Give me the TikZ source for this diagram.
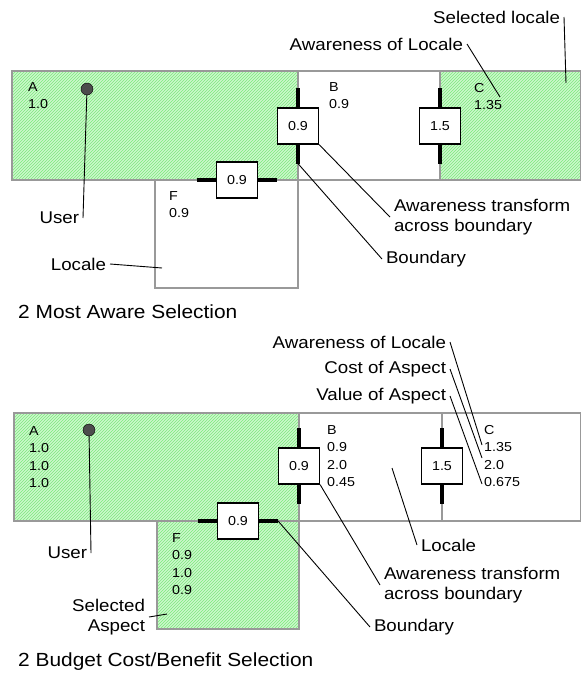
\documentclass[tikz,border=0pt]{standalone}
\usepackage{fontspec}
\setmainfont[FakeStretch=1.1]{Liberation Sans}
\usepackage{tikz}
\usetikzlibrary{patterns}

\definecolor{lgreen}{RGB}{204,248,204}
\definecolor{mgreen}{RGB}{125,232,125}

\begin{document}
\begin{tikzpicture}[x=1pt, y=-1pt,
    region/.style={draw=black!40, line width=1.2pt},
    selected/.style={fill=lgreen, postaction={pattern=north east lines, pattern color=mgreen}},
    xfer/.style={draw, fill=white, line width=1.2pt, minimum width=41pt, minimum height=36pt, inner sep=0pt, font=\valfont},
    bar/.style={line width=4pt},
    leader/.style={line width=0.9pt},
    lbl/.style={inner sep=0pt, outer xsep=4pt, outer ysep=0pt, align=left, font=\lblfont},
    val/.style={inner sep=0pt, anchor=north west, align=left, font=\valfont},
    user/.style={circle, draw, fill=black!70, minimum size=12pt, inner sep=0pt},
    caption/.style={anchor=west, inner sep=0pt, font=\capfont}]
      % Fonts for labels, values and captions
      \def\lblfont{\fontsize{17}{20.5}\selectfont}
      \def\valfont{\fontsize{13}{17.5}\selectfont}
      \def\capfont{\fontsize{19}{22}\selectfont}
      % Length of the boundary bars
      \def\barlen{19}
      \useasboundingbox (0,0) rectangle (581,675);

      % ---- Most aware selection ----
      % Selected locales
      \fill[selected] (12,71) rectangle (298,180);
      \fill[selected] (440,71) rectangle (581,180);
      % Locale outlines
      \draw[region] (12,71) rectangle (581,180);
      \draw[region] (298,71) -- (298,180) (440,71) -- (440,180);
      \draw[region] (155,180) rectangle (298,288);
      % Locale names and awareness
      \node[val] (A1) at (28,82) {A\\1.0};
      \node[val] (B1) at (329,82) {B\\0.9};
      \node[val] (C1) at (474,83) {C\\1.35};
      \node[val] (F1) at (169,191) {F\\0.9};
      % Transforms across the boundaries
      \node[xfer] (t1) at (298,126) {0.9};
      \node[xfer] (t2) at (440,126) {1.5};
      \node[xfer] (t3) at (237,180) {0.9};
      \foreach \b in {t1,t2} {
        \draw[bar] (\b.north) -- ++(0,-\barlen);
        \draw[bar] (\b.south) -- ++(0,\barlen) coordinate (\b s);
      }
      \draw[bar] (t3.west) -- ++(-\barlen,0);
      \draw[bar] (t3.east) -- ++(\barlen,0);
      % User
      \node[user] (u1) at (87,89) {};
      % Labels and their leaders
      \coordinate (selC1) at (566,83);
      \coordinate (awC1) at (500,97);
      \coordinate (locF1) at (162,268);
      \node[lbl, anchor=east] (sel1) at (564,17) {Selected locale};
      \node[lbl, anchor=east] (aw1) at (467,44) {Awareness of Locale};
      \node[lbl, anchor=east] (userL1) at (83,218) {User};
      \node[lbl, anchor=east] (loc1) at (110,264) {Locale};
      \node[lbl, anchor=west] (tr1) at (390,217) {Awareness transform\\across boundary};
      \node[lbl, anchor=west] (bd1) at (382,259) {Boundary};
      \draw[leader] (sel1.east) -- (selC1);
      \draw[leader] (aw1.east) -- (awC1);
      \draw[leader] (u1) -- (userL1.east);
      \draw[leader] (loc1.east) -- (locF1);
      \draw[leader] (t1.south east) -- (tr1.west);
      \draw[leader] (t1s) -- (bd1.west);
      \node[caption] (cap1) at (18,312) {2 Most Aware Selection};

      % ---- Budget cost/benefit selection ----
      % Selected locale and aspect
      \fill[selected] (14,413) rectangle (299,521);
      \fill[selected] (157,521) rectangle (299,629);
      % Locale outlines
      \draw[region] (14,413) rectangle (581,521);
      \draw[region] (299,413) -- (299,521) (442,413) -- (442,521);
      \draw[region] (157,521) rectangle (299,629);
      % Awareness, cost and value per locale
      \node[val] (A2) at (29,426) {A\\1.0\\1.0\\1.0};
      \node[val] (B2) at (327,425) {B\\0.9\\2.0\\0.45};
      \node[val] (C2) at (484,425) {C\\1.35\\2.0\\0.675};
      \node[val] (F2) at (172,533) {F\\0.9\\1.0\\0.9};
      % Transforms across the boundaries
      \node[xfer] (t4) at (299,466) {0.9};
      \node[xfer] (t5) at (442,466) {1.5};
      \node[xfer] (t6) at (238,521) {0.9};
      \foreach \b in {t4,t5} {
        \draw[bar] (\b.north) -- ++(0,-\barlen);
        \draw[bar] (\b.south) -- ++(0,\barlen);
      }
      \draw[bar] (t6.west) -- ++(-\barlen,0);
      \draw[bar] (t6.east) -- ++(\barlen,0) coordinate (t6e);
      % User
      \node[user] (u2) at (89,430) {};
      % Labels on the values of C
      \foreach \t/\y/\e [count=\k] in {Awareness of Locale/342/445, Cost of Aspect/369/458, Value of Aspect/396/484} {
        \node[lbl, anchor=east] (c\k) at (450,\y) {\t};
        \coordinate (cv\k) at (482,\e);
        \draw[leader] (c\k.east) -- (cv\k);
      }
      % Other labels and their leaders
      \coordinate (locB2) at (392,468);
      \coordinate (aspF2) at (167,614);
      \node[lbl, anchor=east] (userL2) at (91,553) {User};
      \node[lbl, anchor=west] (loc2) at (417,545) {Locale};
      \node[lbl, anchor=west] (tr2) at (380,585) {Awareness transform\\across boundary};
      \node[lbl, anchor=west] (bd2) at (370,627) {Boundary};
      \node[lbl, anchor=east, align=right] (selA) at (149,617) {Selected\\Aspect};
      \draw[leader] (u2) -- (userL2.east);
      \draw[leader] (locB2) -- (loc2.west);
      \draw[leader] (t4.south east) -- (tr2.west);
      \draw[leader] (t6e) -- (bd2.west);
      \draw[leader] (selA.east) -- (aspF2);
      \node[caption] (cap2) at (18,662) {2 Budget Cost/Benefit Selection};
    \end{tikzpicture}
\end{document}
